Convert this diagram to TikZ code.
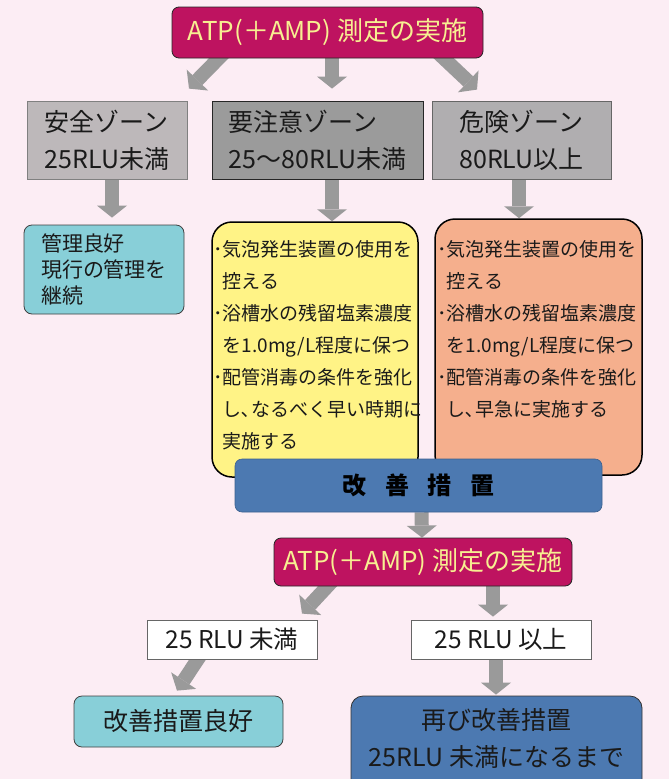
\documentclass[tikz,border=0pt]{standalone}
\usepackage{fontspec}
\setmainfont{Noto Sans CJK JP}
\usetikzlibrary{arrows.meta,calc}
\definecolor{bg}{HTML}{FCEDF4}
\definecolor{mag}{HTML}{BE1360}
\definecolor{ytext}{HTML}{F7EF91}
\definecolor{yel}{HTML}{FFF386}
\definecolor{ora}{HTML}{F5AF8D}
\definecolor{teal}{HTML}{88CFD8}
\definecolor{bluebox}{HTML}{4C79B1}
\definecolor{agray}{HTML}{9A9A9A}
\definecolor{zonea}{HTML}{BDB8BA}
\definecolor{zoneb}{HTML}{9B9B9B}
\definecolor{zonec}{HTML}{B0AEB0}
\definecolor{ink}{HTML}{1A1A1A}
\pgfdeclarelayer{back}
\pgfdeclarelayer{arrowl}
\pgfsetlayers{back,arrowl,main}
\tikzset{
  fat/.style={draw=agray, line width=14pt, -{Triangle[width=30pt,length=12pt,line width=0pt]}},
  magbox/.style={rectangle, rounded corners=7pt, fill=mag, draw=black!85, line width=0.8pt,
    text=ytext, font=\fontsize{26}{30}\selectfont, inner sep=0pt},
  zone/.style={rectangle, minimum height=78pt, line width=0.8pt, text=ink,
    font=\fontsize{25}{37}\selectfont, align=left, inner sep=0pt},
  tealbox/.style={rectangle, rounded corners=8pt, fill=teal, draw=black!75, line width=0.8pt,
    text=ink, inner sep=0pt},
  bigbox/.style={rectangle, rounded corners=20pt, draw=black, line width=1.5pt, inner sep=0pt},
  bullets/.style={font=\fontsize{19}{32}\selectfont, align=left, inner sep=0pt, text=ink},
  whitebox/.style={rectangle, fill=white, draw=black!60, line width=0.8pt, text=ink,
    font=\fontsize{24.5}{28}\selectfont, inner sep=0pt},
}
\begin{document}
\begin{tikzpicture}[x=1pt,y=-1pt]
\begin{pgfonlayer}{back}
\fill[bg] (0,0) rectangle (669,779);
\end{pgfonlayer}
\useasboundingbox (0,0) rectangle (669,779);

% first measurement
\node[magbox, minimum width=311pt, minimum height=51pt] (atp1) at (327.5,32.5) {ATP(＋AMP) 測定の実施};

% zones
\node[zone, fill=zonea, draw=black!50, minimum width=160pt] (safe) at (107,140) {安全ゾーン\\25RLU未満};
\node[zone, fill=zoneb, draw=black!85, minimum width=211pt] (caution) at (317.5,140) {要注意ゾーン\\25〜80RLU未満};
\node[zone, fill=zonec, draw=black!60, minimum width=179pt, align=center] (danger) at (521.5,140) {危険ゾーン\\80RLU以上};

% results
\node[tealbox, minimum width=160pt, minimum height=89pt, font=\fontsize{21}{26}\selectfont, align=left] (good) at (104,269.5) {管理良好\\現行の管理を\\継続};
\node[bigbox, fill=yel, minimum width=206pt, minimum height=255pt] (yel) at (315,349.5) {};
\node[bigbox, fill=ora, minimum width=207pt, minimum height=256pt] (ora) at (538.5,347) {};
\node[bullets, anchor=north west] (yeltxt) at ($(yel.north west)+(2,19)$)
  {･気泡発生装置の使用を\\\hphantom{･}控える\\･浴槽水の残留塩素濃度\\\hphantom{･}を1.0mg/L程度に保つ\\･配管消毒の条件を強化\\\hphantom{･}し､なるべく早い時期に\\\hphantom{･}実施する};
\node[bullets, anchor=north west] (oratxt) at ($(ora.north west)+(3,22)$)
  {･気泡発生装置の使用を\\\hphantom{･}控える\\･浴槽水の残留塩素濃度\\\hphantom{･}を1.0mg/L程度に保つ\\･配管消毒の条件を強化\\\hphantom{･}し､早急に実施する};

% improvement
\node[rectangle, rounded corners=7pt, fill=bluebox, draw=bluebox!80!black, line width=0.6pt,
  minimum width=367pt, minimum height=53pt, text=black, font=\fontsize{24}{28}\selectfont\bfseries]
  (improve) at (418.5,485.5) {改\hspace{0.78em}善\hspace{0.78em}措\hspace{0.78em}置};

% second measurement
\node[magbox, minimum width=298pt, minimum height=48pt] (atp2) at (423,562) {ATP(＋AMP) 測定の実施};

\node[whitebox, minimum width=170pt, minimum height=39pt] (lt25) at (232,639.5) {25 RLU 未満};
\node[whitebox, minimum width=180pt, minimum height=39pt] (ge25) at (501,639.5) {25 RLU 以上};

\node[tealbox, minimum width=209pt, minimum height=51pt, font=\fontsize{25}{28}\selectfont] (good2) at (178.5,721.5) {改善措置良好};
\node[rectangle, rounded corners=12pt, fill=bluebox, draw=black!80, line width=0.8pt,
  minimum width=291pt, minimum height=104pt, inner sep=0pt] (blue2) at (496.5,748) {};
\node[font=\fontsize{25}{37}\selectfont, align=center, text=ink, inner sep=0pt] (blue2txt) at (496.5,738.5) {再び改善措置\\25RLU 未満になるまで};

% arrows
\begin{pgfonlayer}{arrowl}
\draw[fat] ($(atp1.south)+(-103,-6)$) -- ($(safe.north)+(82,-12)$);
\draw[fat] ($(atp1.south)+(4.5,0)$) -- ($(caution.north)+(14.5,-12)$);
\draw[fat] ($(atp1.south)+(110,-6)$) -- ($(danger.north)+(-44.5,-11)$);
\draw[fat] ($(safe.south)+(5,0)$) -- ($(good.north)+(8,-7)$);
\draw[fat] ($(caution.south)+(14.5,0)$) -- ($(yel.north)+(17,0)$);
\draw[fat] ($(danger.south)+(-2.5,0)$) -- ($(ora.north)+(-19.5,0)$);
\draw[fat] ($(improve.south)+(3,0)$) -- ($(atp2.north)+(-1,0)$);
\draw[fat] ($(atp2.south)+(-91,-5)$) -- ($(lt25.north)+(70,-6)$);
\draw[fat] ($(atp2.south)+(70,0)$) -- ($(ge25.north)+(-8,-3)$);
\draw[fat] ($(lt25.south)+(-31,-5)$) -- ($(good2.north)+(-1.5,-5)$);
\draw[fat] ($(ge25.south)+(-5,0)$) -- ($(blue2.north)+(-0.5,-1)$);
\end{pgfonlayer}
\end{tikzpicture}
\end{document}
